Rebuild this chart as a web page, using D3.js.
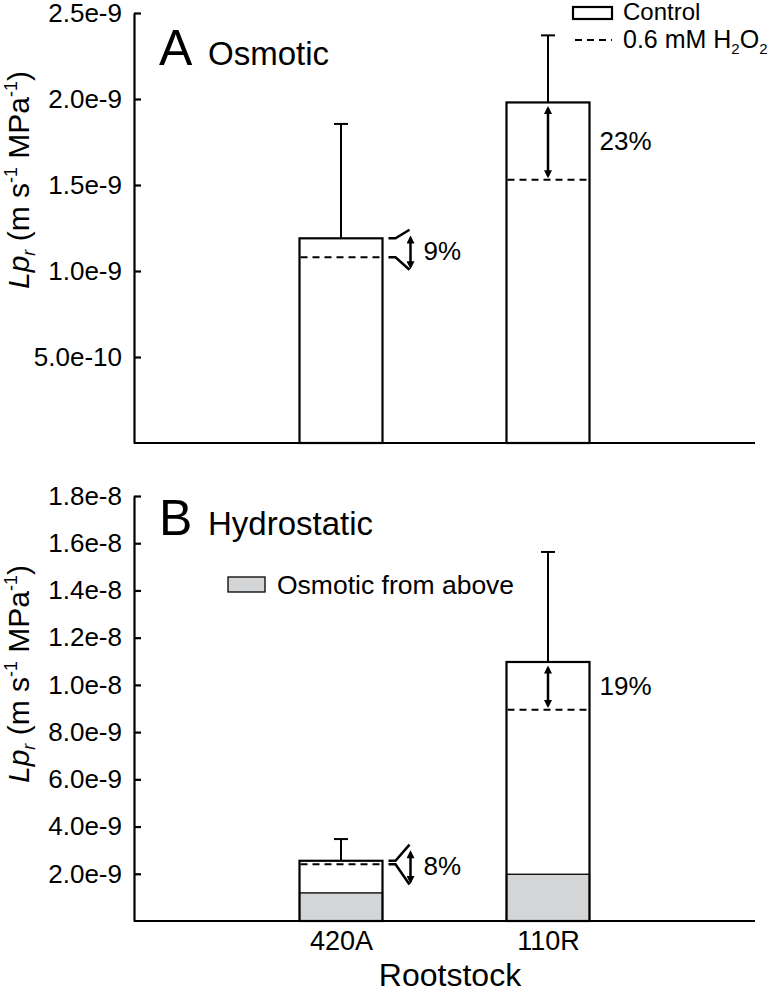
<!DOCTYPE html>
<html>
<head>
<meta charset="utf-8">
<script src="https://d3js.org/d3.v7.min.js"></script>
<style>
body { margin: 0; background: #fff; }
svg text { font-family: "Liberation Sans", Arial, sans-serif; fill: #000; }
</style>
</head>
<body>
<div id="chart"></div>
<script>
// values
var rootstocks = ["420A", "110R"];

var osmControl = [1.19e-9, 1.98e-9];
var osmH2O2    = [1.08e-9, 1.53e-9];
var osmErr     = [0.665e-9, 0.39e-9];
var osmPct     = ["9%", "23%"];

var hydControl = [2.55e-9, 1.097e-8];
var hydH2O2    = [2.40e-9, 8.95e-9];
var hydErr     = [0.92e-9, 4.66e-9];
var hydPct     = ["8%", "19%"];

var osmTicks = [5e-10, 1e-9, 1.5e-9, 2e-9, 2.5e-9];
var hydTicks = [2e-9, 4e-9, 6e-9, 8e-9, 1e-8, 1.2e-8, 1.4e-8, 1.6e-8, 1.8e-8];

var width = 776, height = 990;
var barW = 83;
var grey = "#d4d5d7";

var svg = d3.select("#chart").append("svg")
    .attr("width", width)
    .attr("height", height);

// double headed arrows
svg.append("defs").append("marker")
    .attr("id", "head")
    .attr("viewBox", "0 0 10 10")
    .attr("refX", 7).attr("refY", 5)
    .attr("markerUnits", "userSpaceOnUse")
    .attr("markerWidth", 11).attr("markerHeight", 8)
    .attr("orient", "auto-start-reverse")
    .append("path").attr("d", "M0,0L10,5L0,10z").attr("fill", "#000");

var x = d3.scalePoint().domain(rootstocks).range([134, 755]).padding(1);

function drawPanel(p) {
    var y = d3.scaleLinear().domain([0, p.max]).range(p.range);
    var g = svg.append("g");

    // bars
    var bars = g.selectAll(".bar").data(rootstocks).enter().append("g");
    bars.append("rect")
        .attr("x", d => x(d) - barW / 2)
        .attr("width", barW)
        .attr("y", (d, i) => y(p.control[i]))
        .attr("height", (d, i) => y(0) - y(p.control[i]))
        .attr("fill", "#fff");
    if (p.grey) {
        bars.append("rect")
            .attr("x", d => x(d) - barW / 2)
            .attr("width", barW)
            .attr("y", (d, i) => y(p.grey[i]))
            .attr("height", (d, i) => y(0) - y(p.grey[i]))
            .attr("fill", grey).attr("stroke", "#000").attr("stroke-width", 1.3);
    }
    bars.append("rect")
        .attr("x", d => x(d) - barW / 2)
        .attr("width", barW)
        .attr("y", (d, i) => y(p.control[i]))
        .attr("height", (d, i) => y(0) - y(p.control[i]))
        .attr("fill", "none").attr("stroke", "#000").attr("stroke-width", 2.2);

    // H2O2 level
    bars.append("line")
        .attr("x1", d => x(d) - barW / 2 + 1)
        .attr("x2", d => x(d) + barW / 2 - 1)
        .attr("y1", (d, i) => y(p.h2o2[i]))
        .attr("y2", (d, i) => y(p.h2o2[i]))
        .attr("stroke", "#000").attr("stroke-width", 2).attr("stroke-dasharray", "7,5");

    // error bars (upper only)
    bars.append("line")
        .attr("x1", d => x(d)).attr("x2", d => x(d))
        .attr("y1", (d, i) => y(p.control[i]))
        .attr("y2", (d, i) => y(p.control[i] + p.err[i]))
        .attr("stroke", "#000").attr("stroke-width", 2);
    bars.append("line")
        .attr("x1", d => x(d) - 7).attr("x2", d => x(d) + 7)
        .attr("y1", (d, i) => y(p.control[i] + p.err[i]))
        .attr("y2", (d, i) => y(p.control[i] + p.err[i]))
        .attr("stroke", "#000").attr("stroke-width", 2);

    // percent reduction annotations
    bars.each(function(d, i) {
        var b = d3.select(this);
        var yc = y(p.control[i]), yh = y(p.h2o2[i]);
        var right = x(d) + barW / 2;
        if (yh - yc > 25) {
            b.append("line")
                .attr("x1", x(d)).attr("x2", x(d))
                .attr("y1", yc + 6).attr("y2", yh - 4)
                .attr("stroke", "#000").attr("stroke-width", 2.5)
                .attr("marker-start", "url(#head)").attr("marker-end", "url(#head)");
            b.append("text")
                .attr("x", right + 10).attr("y", (yc + yh) / 2)
                .attr("dy", "0.35em")
                .style("font-size", "26px")
                .text(p.pct[i]);
        } else {
            var mid = (yc + yh) / 2;
            var x0 = right + 6, x1 = right + 13, x2 = right + 27;
            b.append("path")
                .attr("d", "M" + x0 + "," + yc + "H" + x1 + "L" + x2 + "," + (mid - 18) +
                           "M" + x0 + "," + yh + "H" + x1 + "L" + x2 + "," + (mid + 22))
                .attr("fill", "none").attr("stroke", "#000").attr("stroke-width", 2.5);
            b.append("line")
                .attr("x1", x2 + 1).attr("x2", x2 + 1)
                .attr("y1", mid - 10).attr("y2", mid + 19)
                .attr("stroke", "#000").attr("stroke-width", 2.5)
                .attr("marker-start", "url(#head)").attr("marker-end", "url(#head)");
            b.append("text")
                .attr("x", right + 41).attr("y", mid + 3)
                .attr("dy", "0.35em")
                .style("font-size", "26px")
                .text(p.pct[i]);
        }
    });

    // axes
    var yAxis = g.append("g")
        .attr("transform", "translate(134,0)")
        .call(d3.axisLeft(y).tickValues(p.ticks).tickFormat(d3.format(".1e"))
            .tickSizeInner(-7).tickSizeOuter(0).tickPadding(12));
    yAxis.selectAll("text").style("font-size", "26px").attr("font-family", null);
    yAxis.selectAll("line, path").attr("stroke-width", 2.2);

    var xAxis = g.append("g")
        .attr("transform", "translate(0," + y(0) + ")")
        .call(d3.axisBottom(x).tickSize(0).tickPadding(10)
            .tickFormat(p.showX ? null : ""));
    xAxis.select(".domain").attr("d", "M134,0H755").attr("stroke-width", 2.2);
    xAxis.selectAll("text").style("font-size", "27px").attr("font-family", null);

    // panel label
    g.append("text").attr("x", 159).attr("y", p.labelY)
        .style("font-size", "50px").text(p.letter);
    g.append("text").attr("x", 208).attr("y", p.labelY)
        .style("font-size", "33px").text(p.title);

    // y axis title
    var t = g.append("text")
        .attr("transform", "translate(29," + p.titleY + ") rotate(-90)")
        .attr("text-anchor", "middle")
        .style("font-size", "30px");
    t.append("tspan").style("font-style", "italic").text("Lp");
    t.append("tspan").style("font-style", "italic").style("font-size", "18px").attr("dy", 6).text("r");
    t.append("tspan").attr("dy", -6).text(" (m s");
    t.append("tspan").style("font-size", "18px").attr("dy", -12).text("-1");
    t.append("tspan").attr("dy", 12).text(" MPa");
    t.append("tspan").style("font-size", "18px").attr("dy", -12).text("-1");
    t.append("tspan").attr("dy", 12).text(")");
    return g;
}

var gA = drawPanel({
    max: 2.5e-9, range: [443, 13], ticks: osmTicks,
    control: osmControl, h2o2: osmH2O2, err: osmErr, pct: osmPct,
    letter: "A", title: "Osmotic", labelY: 65, titleY: 180, showX: false
});

var gB = drawPanel({
    max: 1.8e-8, range: [921, 496], ticks: hydTicks,
    control: hydControl, h2o2: hydH2O2, err: hydErr, pct: hydPct,
    grey: osmControl,
    letter: "B", title: "Hydrostatic", labelY: 535, titleY: 674, showX: true
});

// legend, panel A
gA.append("rect").attr("x", 573).attr("y", 7).attr("width", 39).attr("height", 12)
    .attr("fill", "#fff").attr("stroke", "#000").attr("stroke-width", 2.2);
gA.append("text").attr("x", 623).attr("y", 20).style("font-size", "24px").text("Control");
gA.append("line").attr("x1", 575).attr("x2", 612).attr("y1", 40).attr("y2", 40)
    .attr("stroke", "#000").attr("stroke-width", 2).attr("stroke-dasharray", "7,5");
var lt = gA.append("text").attr("x", 623).attr("y", 48).style("font-size", "25px");
lt.append("tspan").text("0.6 mM H");
lt.append("tspan").style("font-size", "15px").attr("dy", 6).text("2");
lt.append("tspan").attr("dy", -6).text("O");
lt.append("tspan").style("font-size", "15px").attr("dy", 6).text("2");

// legend, panel B
gB.append("rect").attr("x", 228).attr("y", 577).attr("width", 37).attr("height", 15)
    .attr("fill", grey).attr("stroke", "#000").attr("stroke-width", 1.3);
gB.append("text").attr("x", 277).attr("y", 594).style("font-size", "26.5px").text("Osmotic from above");

// x axis title
svg.append("text").attr("x", 450).attr("y", 986).attr("text-anchor", "middle")
    .style("font-size", "32px").text("Rootstock");
</script>
</body>
</html>
